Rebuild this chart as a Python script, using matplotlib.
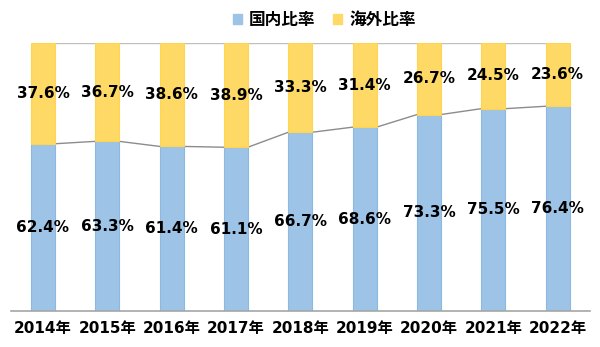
import numpy as np
import matplotlib
matplotlib.use("Agg")
import matplotlib.pyplot as plt
from matplotlib.patches import Patch

plt.rcParams['font.family'] = ['DejaVu Sans', 'Noto Sans CJK JP']

years = ['2014年', '2015年', '2016年', '2017年', '2018年', '2019年', '2020年', '2021年', '2022年']
domestic = [62.4, 63.3, 61.4, 61.1, 66.7, 68.6, 73.3, 75.5, 76.4]
overseas = [37.6, 36.7, 38.6, 38.9, 33.3, 31.4, 26.7, 24.5, 23.6]

c_dom = '#9DC3E6'
c_ovr = '#FFD966'

fig = plt.figure(figsize=(6, 3.47), dpi=100)
ax = fig.add_axes([0.018, 0.104, 0.965, 0.772])

x = np.arange(len(years))
w = 0.37
ax.bar(x, domestic, w, color=c_dom, edgecolor='#8DB8E2', linewidth=0.8, zorder=2)
ax.bar(x, overseas, w, bottom=domestic, color=c_ovr, edgecolor='#FFD54F', linewidth=0.8, zorder=2)

# series lines between bars
for i in range(len(years) - 1):
    ax.plot([x[i] + w / 2, x[i + 1] - w / 2], [domestic[i], domestic[i + 1]],
            color='#8C8C8C', lw=1.0, zorder=1)
    ax.plot([x[i] + w / 2, x[i + 1] - w / 2], [100, 100],
            color='#BFBFBF', lw=1.0, zorder=1)

for i in range(len(years)):
    ax.text(x[i], domestic[i] / 2, f'{domestic[i]:.1f}%', ha='center', va='center',
            fontsize=11, fontweight='bold', zorder=3)
    ax.text(x[i], domestic[i] + overseas[i] / 2, f'{overseas[i]:.1f}%', ha='center', va='center',
            fontsize=11, fontweight='bold', zorder=3)

ax.set_xlim(-0.5, len(years) - 0.5)
ax.set_ylim(0, 100)
ax.set_yticks([])
ax.set_xticks(x)
ax.set_xticklabels(years, fontsize=11, fontweight='bold')
ax.tick_params(axis='x', length=0, pad=7)
for s in ['left', 'right', 'top']:
    ax.spines[s].set_visible(False)
ax.spines['bottom'].set_color('#A6A6A6')
ax.spines['bottom'].set_linewidth(1.2)

handles = [Patch(facecolor=c_dom, edgecolor=c_dom, label='国内比率'),
           Patch(facecolor=c_ovr, edgecolor=c_ovr, label='海外比率')]
fig.legend(handles=handles, loc='upper center', bbox_to_anchor=(0.54, 1.012), ncol=2,
           frameon=False, prop={'family': ['Noto Sans CJK JP'], 'size': 12, 'weight': 'bold'},
           handlelength=0.55, handleheight=0.55, handletextpad=0.4, columnspacing=1.1)

fig.savefig('out.png', dpi=100)
